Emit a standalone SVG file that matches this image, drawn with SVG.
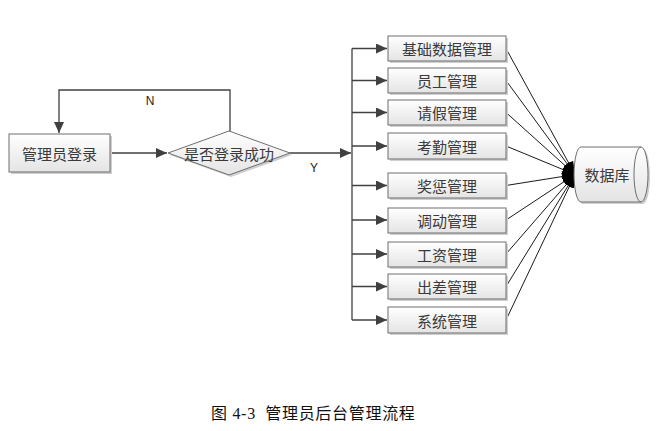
<svg xmlns="http://www.w3.org/2000/svg" width="659" height="431" viewBox="0 0 659 431">
<style>
.box{fill:url(#g);stroke:#6e6e6e;stroke-width:1}
.shadow{fill:#cfcfcf}
.t{font-family:"Noto Sans CJK SC","Liberation Sans",sans-serif;font-size:15px;fill:#3a3a3a;text-anchor:middle;dominant-baseline:central}
.flow{fill:none;stroke:#404040;stroke-width:1.3}
.db{fill:none;stroke:#000;stroke-width:0.9}
.lbl{font-family:"Liberation Sans",sans-serif;font-size:12px;fill:#222;text-anchor:middle}
</style>
<defs>
<linearGradient id="g" x1="0" y1="0" x2="0" y2="1">
<stop offset="0" stop-color="#ffffff"/>
<stop offset="1" stop-color="#e4e4e4"/>
</linearGradient>
<marker id="a" markerUnits="userSpaceOnUse" markerWidth="12" markerHeight="10" refX="11" refY="5" orient="auto">
<path d="M0,0 L11,5 L0,10 Z" fill="#404040"/>
</marker>
<marker id="b" markerUnits="userSpaceOnUse" markerWidth="14" markerHeight="12" refX="13" refY="6" orient="auto">
<path d="M0,1 L13,6 L0,11 Z" fill="#000"/>
</marker>
</defs>
<rect width="659" height="431" fill="#fff"/>

<g id="connectors">
<path class="flow" d="M110,153 H167" marker-end="url(#a)"/>
<path class="flow" d="M230,132 V90 H59 V133" marker-end="url(#a)"/>
<path class="flow" d="M290,153 H351" marker-end="url(#a)"/>
<path class="flow" d="M352,48.5 V320"/>
<path class="flow" d="M352,48.5 H387" marker-end="url(#a)"/>
<path class="flow" d="M352,80.5 H387" marker-end="url(#a)"/>
<path class="flow" d="M352,112.5 H387" marker-end="url(#a)"/>
<path class="flow" d="M352,146 H387" marker-end="url(#a)"/>
<path class="flow" d="M352,185.5 H387" marker-end="url(#a)"/>
<path class="flow" d="M352,220 H387" marker-end="url(#a)"/>
<path class="flow" d="M352,254 H387" marker-end="url(#a)"/>
<path class="flow" d="M352,286.5 H387" marker-end="url(#a)"/>
<path class="flow" d="M352,320 H387" marker-end="url(#a)"/>
<path class="db" d="M506,48.5 L575,174.5" marker-end="url(#b)"/>
<path class="db" d="M506,80.5 L575,174.5" marker-end="url(#b)"/>
<path class="db" d="M506,112.5 L575,174.5" marker-end="url(#b)"/>
<path class="db" d="M506,146 L575,174.5" marker-end="url(#b)"/>
<path class="db" d="M506,185.5 L575,174.5" marker-end="url(#b)"/>
<path class="db" d="M506,220 L575,174.5" marker-end="url(#b)"/>
<path class="db" d="M506,254 L575,174.5" marker-end="url(#b)"/>
<path class="db" d="M506,286.5 L575,174.5" marker-end="url(#b)"/>
<path class="db" d="M506,320 L575,174.5" marker-end="url(#b)"/>
<text class="lbl" x="150" y="105">N</text>
<text class="lbl" x="314" y="172">Y</text>
</g>

<g id="login">
<rect class="shadow" x="11" y="136" width="101" height="38"/>
<rect class="box" x="9" y="134" width="101" height="38"/>
<text class="t" x="59.5" y="153">管理员登录</text>
</g>

<g id="decision">
<path class="shadow" d="M170,155 L231,133 L292,155 L231,177 Z"/>
<path class="box" d="M168,153 L229,131 L290,153 L229,175 Z"/>
<text class="t" x="229" y="153">是否登录成功</text>
</g>

<g id="m1"><rect class="shadow" x="390" y="38" width="118" height="25"/><rect class="box" x="388" y="36" width="118" height="25"/><text class="t" x="447" y="48.5">基础数据管理</text></g>
<g id="m2"><rect class="shadow" x="390" y="70" width="118" height="25"/><rect class="box" x="388" y="68" width="118" height="25"/><text class="t" x="447" y="80.5">员工管理</text></g>
<g id="m3"><rect class="shadow" x="390" y="102" width="118" height="25"/><rect class="box" x="388" y="100" width="118" height="25"/><text class="t" x="447" y="112.5">请假管理</text></g>
<g id="m4"><rect class="shadow" x="390" y="135" width="118" height="26"/><rect class="box" x="388" y="133" width="118" height="26"/><text class="t" x="447" y="146">考勤管理</text></g>
<g id="m5"><rect class="shadow" x="390" y="175" width="118" height="25"/><rect class="box" x="388" y="173" width="118" height="25"/><text class="t" x="447" y="185.5">奖惩管理</text></g>
<g id="m6"><rect class="shadow" x="390" y="210" width="118" height="25"/><rect class="box" x="388" y="208" width="118" height="25"/><text class="t" x="447" y="220.5">调动管理</text></g>
<g id="m7"><rect class="shadow" x="390" y="244" width="118" height="25"/><rect class="box" x="388" y="242" width="118" height="25"/><text class="t" x="447" y="254.5">工资管理</text></g>
<g id="m8"><rect class="shadow" x="390" y="276" width="118" height="25"/><rect class="box" x="388" y="274" width="118" height="25"/><text class="t" x="447" y="286.5">出差管理</text></g>
<g id="m9"><rect class="shadow" x="390" y="309" width="118" height="26"/><rect class="box" x="388" y="307" width="118" height="26"/><text class="t" x="447" y="320">系统管理</text></g>

<g id="database">
<path class="shadow" d="M583,149 H643 A7,27.5 0 0 1 643,204 H583 A7,27.5 0 0 1 583,149 Z"/>
<path class="box" d="M581,147 H641 A7,27.5 0 0 1 641,202 H581 A7,27.5 0 0 1 581,147 Z"/>
<path d="M641,147 A7,27.5 0 0 0 641,202" fill="none" stroke="#6e6e6e"/>
<text class="t" x="607" y="174.5">数据库</text>
</g>

<text x="211" y="419" font-family="'Liberation Serif','Noto Sans CJK SC',serif" font-size="16" letter-spacing="0.7" fill="#111" xml:space="preserve">图 4-3  管理员后台管理流程</text>
</svg>
